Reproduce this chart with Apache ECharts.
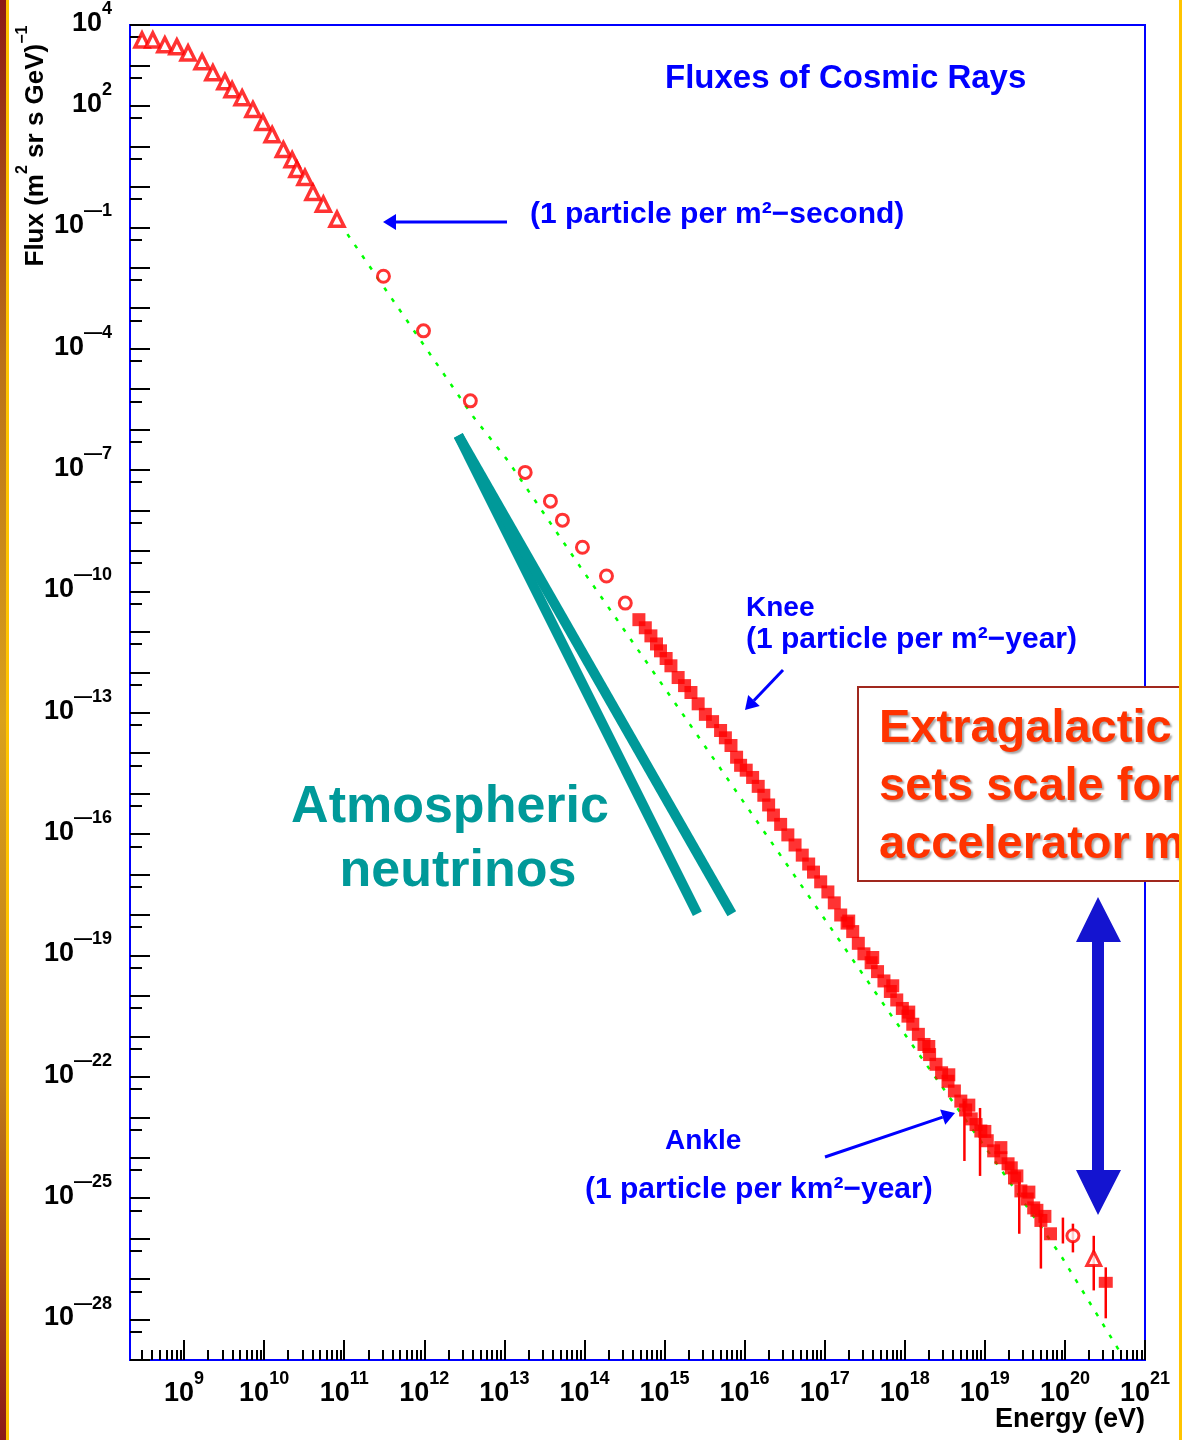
<!DOCTYPE html>
<html><head><meta charset="utf-8">
<script src="https://cdn.jsdelivr.net/npm/echarts@6/dist/echarts.min.js"></script>
<style>html,body{margin:0;padding:0;background:#fff}#c{width:1182px;height:1440px}</style>
</head><body><div id="c"></div>
<script>
// ---- axes (log10 units) ----
const xRange = [8.325, 21];
const yRange = [-29, 4];
const xMajor = [9, 10, 11, 12, 13, 14, 15, 16, 17, 18, 19, 20, 21];
const yLabelVals = [-28, -25, -22, -19, -16, -13, -10, -7, -4, -1, 2, 4];

// ---- data: log10(E/eV), log10(flux) ----
const triE = [8.475, 8.61, 8.76, 8.91, 9.05, 9.225, 9.36, 9.51, 9.60, 9.725, 9.86, 9.985, 10.10, 10.24, 10.35, 10.41, 10.51, 10.61, 10.74, 10.91];
const triF = [3.63, 3.63, 3.51, 3.46, 3.31, 3.09, 2.82, 2.60, 2.40, 2.20, 1.91, 1.59, 1.29, 0.92, 0.67, 0.43, 0.23, -0.14, -0.43, -0.80];

const circE = [11.49, 11.99, 12.575, 13.26, 13.575, 13.725, 13.975, 14.275, 14.51];
const circF = [-2.21, -3.56, -5.29, -7.06, -7.77, -8.24, -8.91, -9.62, -10.29];

const bandE = [14.68, 14.76, 14.83, 14.90, 14.95, 15.02, 15.08, 15.17, 15.25, 15.33, 15.42, 15.51, 15.60, 15.70, 15.76, 15.83, 15.90, 15.95, 16.02, 16.10, 16.17, 16.24, 16.30, 16.36, 16.45, 16.54, 16.63, 16.72, 16.80, 16.86, 16.95, 17.04, 17.12, 17.20, 17.28, 17.35, 17.42, 17.49, 17.58, 17.66, 17.74, 17.82, 17.90, 17.97, 18.04, 18.10, 18.17, 18.24, 18.31, 18.39, 18.46, 18.54, 18.62, 18.70, 18.76, 18.83, 18.89, 18.95, 19.03, 19.11, 19.20, 19.29, 19.37, 19.45, 19.53, 19.61, 19.70, 19.82,
  17.30, 17.60, 17.85, 18.05, 18.30, 18.55, 18.80, 19.00, 19.20, 19.40, 19.55, 19.75, 19.33, 19.65];
const bandF = [-10.70, -10.90, -11.10, -11.30, -11.47, -11.66, -11.84, -12.13, -12.33, -12.50, -12.78, -13.04, -13.22, -13.44, -13.62, -13.81, -14.10, -14.30, -14.42, -14.60, -14.82, -15.04, -15.28, -15.53, -15.76, -16.02, -16.27, -16.52, -16.74, -16.94, -17.18, -17.43, -17.70, -18.00, -18.20, -18.41, -18.70, -18.96, -19.18, -19.40, -19.63, -19.89, -20.10, -20.31, -20.50, -20.70, -20.95, -21.20, -21.45, -21.69, -21.90, -22.11, -22.35, -22.60, -22.82, -23.04, -23.18, -23.34, -23.58, -23.83, -24.00, -24.15, -24.50, -24.82, -25.02, -25.24, -25.55, -25.88,
  -18.15, -19.05, -19.75, -20.40, -21.25, -21.95, -22.70, -23.35, -23.75, -24.45, -24.85, -25.45, -24.25, -25.30];

const tailCircE = [20.10];
const tailCircF = [-25.93];
const tailTriE = [20.36];
const tailTriF = [-26.49];
const tailSqE = [20.51];
const tailSqF = [-27.08];

const errE = [18.745, 18.94, 19.43, 19.70, 19.975, 20.10, 20.36, 20.51];
const errLow = [-24.08, -24.45, -25.88, -26.74, -26.12, -26.34, -27.28, -27.97];
const errHigh = [-22.60, -22.77, -24.60, -25.38, -25.48, -25.63, -25.93, -26.71];

const fitE = [11.04, 12.61, 13.04, 13.95, 15.24, 17.825, 19.24, 19.95, 20.675];
const fitF = [-1.17, -5.68, -6.76, -9.40, -13.07, -20.46, -24.40, -26.42, -28.76];

const nuStart = [12.425, -6.148];
const nuEndA = [15.41, -17.97];
const nuEndB = [15.84, -17.97];

// ---- tick helpers ----
const xMinor = [];
for (let n = 8; n <= 20; n++) for (let k = 2; k <= 9; k++) { const v = n + Math.log10(k); if (v > xRange[0] && v < xRange[1]) xMinor.push(v); }
const yMajor = [];
for (let n = yRange[0]; n <= yRange[1]; n++) yMajor.push(n);
const yMinor = [];
for (let n = yRange[0]; n < yRange[1]; n++) yMinor.push(n + Math.log10(5));

const zip = (a, b) => a.map((v, i) => [v, b[i]]);
const FONT = '"Liberation Sans", Arial, sans-serif';
const rich = {
  b: { fontFamily: FONT, fontWeight: 'bold', fontSize: 27, lineHeight: 27, padding: [10, 0, 13, 0], color: '#000' },
  e: { fontFamily: FONT, fontWeight: 'bold', fontSize: 18, lineHeight: 18, padding: [0, 0, 32, 0], color: '#000' }
};
const fmt = v => { const n = Math.round(v); return '{b|10}{e|' + (n < 0 ? '\u2014' + (-n) : n) + '}'; };

function arrow(x1, y1, x2, y2, color, w, hl, hw) {
  const dx = x2 - x1, dy = y2 - y1, L = Math.hypot(dx, dy), ux = dx / L, uy = dy / L;
  const bx = x2 - ux * hl, by = y2 - uy * hl;
  return [
    { type: 'polyline', z: 50, shape: { points: [[x1, y1], [bx, by]] }, style: { stroke: color, lineWidth: w } },
    { type: 'polygon', z: 50, shape: { points: [[x2, y2], [bx - uy * hw, by + ux * hw], [bx + uy * hw, by - ux * hw]] }, style: { fill: color } }
  ];
}
const blueTxt = (t, x, y, size) => ({ type: 'text', z: 50, x: x, y: y, style: { text: t, fill: '#0000FF', font: 'bold ' + size + 'px ' + FONT, textAlign: 'left', textVerticalAlign: 'middle' } });
const redTxt = (t, y) => ({ type: 'text', z: 61, x: 879, y: y, style: { text: t, fill: '#FF3300', font: 'bold 47px ' + FONT, textAlign: 'left', textVerticalAlign: 'middle', textShadowColor: 'rgba(0,0,0,0.35)', textShadowOffsetX: 2, textShadowOffsetY: 2, textShadowBlur: 2 } });

const chart = echarts.init(document.getElementById('c'), null, { renderer: 'canvas' });
const option = {
  animation: false,
  backgroundColor: '#ffffff',
  grid: { left: 130, right: 37, top: 20, bottom: 80, show: true, borderColor: '#0000FF', borderWidth: 2 },
  xAxis: [
    { type: 'value', min: xRange[0], max: xRange[1], position: 'bottom',
      axisLine: { show: true, onZero: false, lineStyle: { color: '#0000FF', width: 2 } },
      axisTick: { show: true, customValues: xMajor, inside: true, length: 20, lineStyle: { color: '#000', width: 2 } },
      axisLabel: { show: true, customValues: xMajor, margin: 22, formatter: fmt, rich: rich },
      splitLine: { show: false } },
    { type: 'value', min: xRange[0], max: xRange[1], position: 'bottom', gridIndex: 0,
      axisLine: { show: false, onZero: false },
      axisTick: { show: true, customValues: xMinor, inside: true, length: 10, lineStyle: { color: '#000', width: 2 } },
      axisLabel: { show: false }, splitLine: { show: false } }
  ],
  yAxis: [
    { type: 'value', min: yRange[0], max: yRange[1], position: 'left',
      axisLine: { show: true, onZero: false, lineStyle: { color: '#0000FF', width: 2 } },
      axisTick: { show: true, customValues: yMajor, inside: true, length: 20, lineStyle: { color: '#000', width: 2 } },
      axisLabel: { show: true, customValues: yLabelVals, margin: 18, formatter: fmt, rich: rich },
      splitLine: { show: false } },
    { type: 'value', min: yRange[0], max: yRange[1], position: 'left',
      axisLine: { show: false, onZero: false },
      axisTick: { show: true, customValues: yMinor, inside: true, length: 12, lineStyle: { color: '#000', width: 2 } },
      axisLabel: { show: false }, splitLine: { show: false } }
  ],
  series: [
    { type: 'line', name: 'fit', data: zip(fitE, fitF), showSymbol: false, symbol: 'none', z: 2,
      lineStyle: { color: '#00FF00', width: 2.5, type: [4, 9] } },
    { type: 'line', name: 'nuA', data: [nuStart, nuEndA], showSymbol: false, symbol: 'none', z: 3,
      lineStyle: { color: '#009999', width: 10, cap: 'butt' } },
    { type: 'line', name: 'nuB', data: [nuStart, nuEndB], showSymbol: false, symbol: 'none', z: 3,
      lineStyle: { color: '#009999', width: 10, cap: 'butt' } },
    { type: 'custom', name: 'err', z: 4, data: errE.map((e, i) => [e, errLow[i], errHigh[i]]),
      encode: { x: 0, y: [1, 2] },
      renderItem: function (params, api) {
        const p1 = api.coord([api.value(0), api.value(1)]);
        const p2 = api.coord([api.value(0), api.value(2)]);
        return { type: 'line', shape: { x1: p1[0], y1: p1[1], x2: p2[0], y2: p2[1] }, style: { stroke: '#FF0000', lineWidth: 2.5 } };
      } },
    { type: 'scatter', name: 'band', data: zip(bandE, bandF), symbol: 'rect', symbolSize: 13, z: 5,
      itemStyle: { color: '#FF0000' } },
    { type: 'scatter', name: 'tri', data: zip(triE, triF), symbol: 'triangle', symbolSize: 14, z: 5,
      itemStyle: { color: '#ffffff', borderColor: '#FF0000', borderWidth: 3.5 } },
    { type: 'scatter', name: 'circ', data: zip(circE, circF), symbol: 'circle', symbolSize: 12, z: 5,
      itemStyle: { color: '#ffffff', borderColor: '#FF0000', borderWidth: 3 } },
    { type: 'scatter', name: 'tailCirc', data: zip(tailCircE, tailCircF), symbol: 'circle', symbolSize: 12, z: 6,
      itemStyle: { color: '#ffffff', borderColor: '#FF0000', borderWidth: 3 } },
    { type: 'scatter', name: 'tailTri', data: zip(tailTriE, tailTriF), symbol: 'triangle', symbolSize: 14, z: 6,
      itemStyle: { color: '#ffffff', borderColor: '#FF0000', borderWidth: 3 } },
    { type: 'scatter', name: 'tailSq', data: zip(tailSqE, tailSqF), symbol: 'rect', symbolSize: [14, 11], z: 6,
      itemStyle: { color: '#FF0000' } }
  ],
  graphic: [
    // slide borders
    { type: 'rect', z: 100, shape: { x: 0, y: 0, width: 6, height: 1440 },
      style: { fill: new echarts.graphic.LinearGradient(0, 0, 0, 1, [
        { offset: 0, color: '#8C1A16' }, { offset: 0.25, color: '#B9701A' }, { offset: 0.5, color: '#D9A11C' },
        { offset: 0.75, color: '#BE7A1A' }, { offset: 1, color: '#8C1A16' }]) } },
    { type: 'rect', z: 100, shape: { x: 6, y: 0, width: 3, height: 1440 }, style: { fill: '#FFC400' } },
    { type: 'rect', z: 100, shape: { x: 1179, y: 0, width: 3, height: 1440 }, style: { fill: '#FFC400' } },
    // axis titles
    { type: 'text', z: 50, x: 32, y: 146, rotation: Math.PI / 2,
      style: { text: '{a|Flux (m}{s|2}{a| sr s GeV)}{s|\u22121}', textAlign: 'center', textVerticalAlign: 'middle',
        rich: { a: { fontFamily: FONT, fontWeight: 'bold', fontSize: 26, lineHeight: 26, padding: [8, 0, 0, 0], fill: '#000' },
                s: { fontFamily: FONT, fontWeight: 'bold', fontSize: 16, lineHeight: 16, padding: [0, 0, 18, 0], fill: '#000' } } } },
    { type: 'text', z: 50, x: 1145, y: 1420, style: { text: 'Energy (eV)', fill: '#000', font: 'bold 27px ' + FONT, textAlign: 'right', textVerticalAlign: 'middle' } },
    // blue annotations
    blueTxt('Fluxes of Cosmic Rays', 665, 79, 33),
    blueTxt('(1 particle per m\u00b2\u2212second)', 530, 215, 30),
    blueTxt('Knee', 746, 608, 28),
    blueTxt('(1 particle per m\u00b2\u2212year)', 746, 640, 30),
    blueTxt('Ankle', 665, 1141, 28),
    blueTxt('(1 particle per km\u00b2\u2212year)', 585, 1190, 30),
    ...arrow(507, 222, 383, 222, '#0000FF', 3, 13, 8),
    ...arrow(783, 670, 745, 710, '#0000FF', 3, 13, 8),
    ...arrow(825, 1157, 955, 1113, '#0000FF', 3, 13, 8),
    // atmospheric neutrinos label
    { type: 'text', z: 50, x: 450, y: 808, style: { text: 'Atmospheric', fill: '#009999', font: 'bold 52px ' + FONT, textAlign: 'center', textVerticalAlign: 'middle' } },
    { type: 'text', z: 50, x: 458, y: 872, style: { text: 'neutrinos', fill: '#009999', font: 'bold 52px ' + FONT, textAlign: 'center', textVerticalAlign: 'middle' } },
    // extragalactic box
    { type: 'rect', z: 60, shape: { x: 858, y: 687, width: 340, height: 194 }, style: { fill: '#ffffff', stroke: '#A0281E', lineWidth: 2 } },
    redTxt('Extragalactic', 729),
    redTxt('sets scale for', 787),
    redTxt('accelerator m', 845),
    // blue double arrow
    { type: 'polygon', z: 60, shape: { points: [[1098, 897], [1121, 942], [1104, 942], [1104, 1170], [1121, 1170], [1098, 1215], [1076, 1170], [1092, 1170], [1092, 942], [1076, 942]] },
      style: { fill: '#1414D0' } }
  ]
};
chart.setOption(option);
</script>
</body></html>
